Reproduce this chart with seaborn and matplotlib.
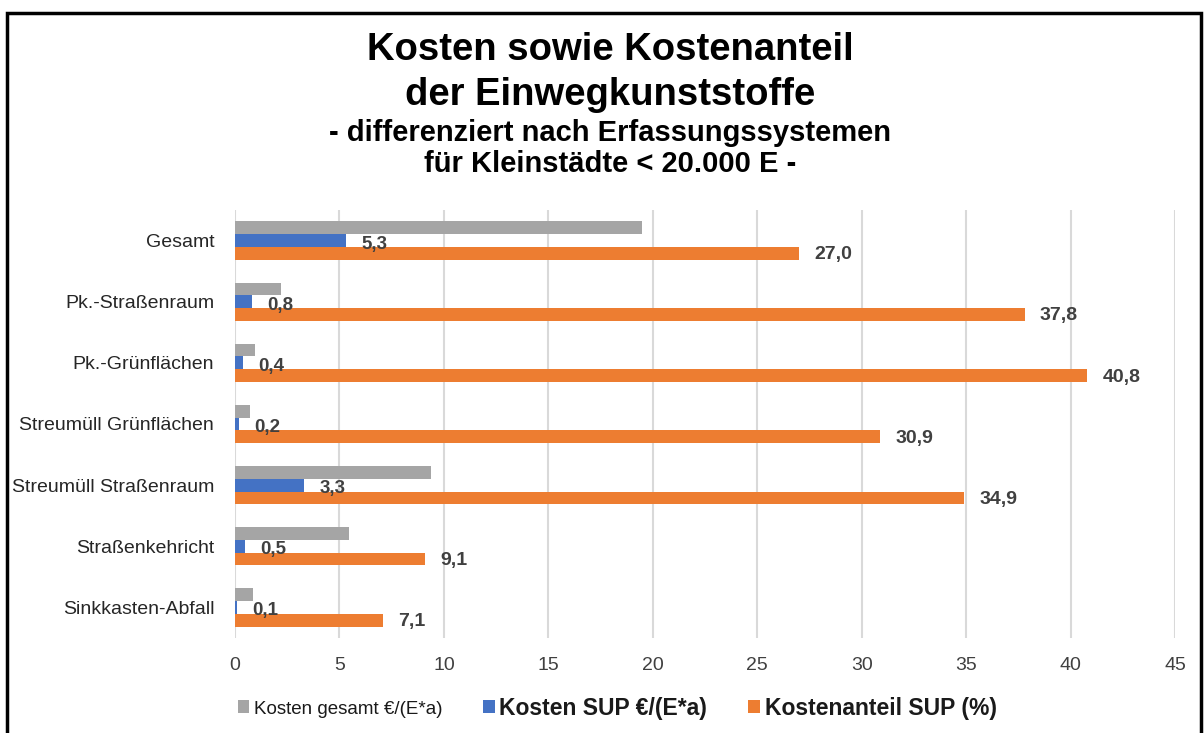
import pandas as pd
import matplotlib.pyplot as plt
import seaborn as sns
from matplotlib.patches import Patch, Rectangle

# Werte
kategorien = ["Gesamt", "Pk.-Straßenraum", "Pk.-Grünflächen", "Streumüll Grünflächen",
              "Streumüll Straßenraum", "Straßenkehricht", "Sinkkasten-Abfall"]
kosten_gesamt = [19.5, 2.2, 0.95, 0.7, 9.4, 5.45, 0.85]
kosten_sup = [5.3, 0.8, 0.4, 0.2, 3.3, 0.5, 0.1]
kostenanteil_sup = [27.0, 37.8, 40.8, 30.9, 34.9, 9.1, 7.1]
serien = ["Kosten gesamt €/(E*a)", "Kosten SUP €/(E*a)", "Kostenanteil SUP (%)"]
farben = ["#a5a5a5", "#4472c4", "#ed7d31"]
x_ticks = [0, 5, 10, 15, 20, 25, 30, 35, 40, 45]

df = pd.DataFrame({
    "kategorie": kategorien * 3,
    "serie": [serien[0]] * 7 + [serien[1]] * 7 + [serien[2]] * 7,
    "wert": kosten_gesamt + kosten_sup + kostenanteil_sup,
})

sns.set_style("white")
plt.rcParams["font.family"] = ["Liberation Sans", "DejaVu Sans"]

fig = plt.figure(figsize=(12.04, 7.33), dpi=100)
ax = fig.add_axes([235 / 1204, 1 - 638 / 733, 940 / 1204, 428 / 733])

sns.barplot(data=df, y="kategorie", x="wert", hue="serie", orient="h",
            order=kategorien, hue_order=serien, palette=farben, saturation=1,
            width=0.627, linewidth=0, legend=False, ax=ax)

# Datenbeschriftungen nur für SUP-Reihen
for i, werte in [(1, kosten_sup), (2, kostenanteil_sup)]:
    labels = ax.bar_label(ax.containers[i],
                          labels=[f"{v:.1f}".replace(".", ",") for v in werte],
                          padding=11, fontsize=13.5 if i == 1 else 14,
                          fontweight="bold", color="#404040")
    for t in labels:
        t.xyann = (11, -2.5 if i == 1 else -1)

ax.set_xlim(0, 45)
ax.set_xticks(x_ticks)
ax.set_xlabel("")
ax.set_ylabel("")
ax.grid(axis="x", color="#d9d9d9", linewidth=1.5)
ax.set_axisbelow(True)
sns.despine(ax=ax, left=True, bottom=True)
ax.tick_params(axis="y", length=0, pad=15, labelsize=14, labelcolor="#262626")
ax.tick_params(axis="x", length=0, pad=14, labelsize=14, labelcolor="#404040")

# Titel
fig.text(0.507, 1 - 60 / 733, "Kosten sowie Kostenanteil", ha="center", va="baseline",
         fontsize=27.5, fontweight="bold", color="black")
fig.text(0.507, 1 - 105 / 733, "der Einwegkunststoffe", ha="center", va="baseline",
         fontsize=27.5, fontweight="bold", color="black")
fig.text(0.507, 1 - 141 / 733, "- differenziert nach Erfassungssystemen", ha="center",
         va="baseline", fontsize=21, fontweight="bold", color="black")
fig.text(0.507, 1 - 172 / 733, "für Kleinstädte < 20.000 E -", ha="center",
         va="baseline", fontsize=21, fontweight="bold", color="black")

# Legende
handles = [Patch(facecolor=c, edgecolor="none") for c in farben]
leg = fig.legend(handles, serien, loc="center", bbox_to_anchor=(617 / 1204, 1 - 708 / 733),
                 ncol=3, frameon=False, prop={"size": 16.5, "weight": "bold"},
                 handlelength=0.5, handleheight=0.5, handletextpad=0.2,
                 columnspacing=1.8)
texte = leg.get_texts()
texte[0].set_fontsize(13.5)
texte[0].set_fontweight("normal")
for t in texte:
    t.set_color("#1a1a1a")

# Rahmen
fig.patches.append(Rectangle((7 / 1204, -0.05), 1194 / 1204, 1.05 - 13 / 733,
                             transform=fig.transFigure, fill=False,
                             edgecolor="black", linewidth=2.5))

fig.savefig("out.png", dpi=100)
